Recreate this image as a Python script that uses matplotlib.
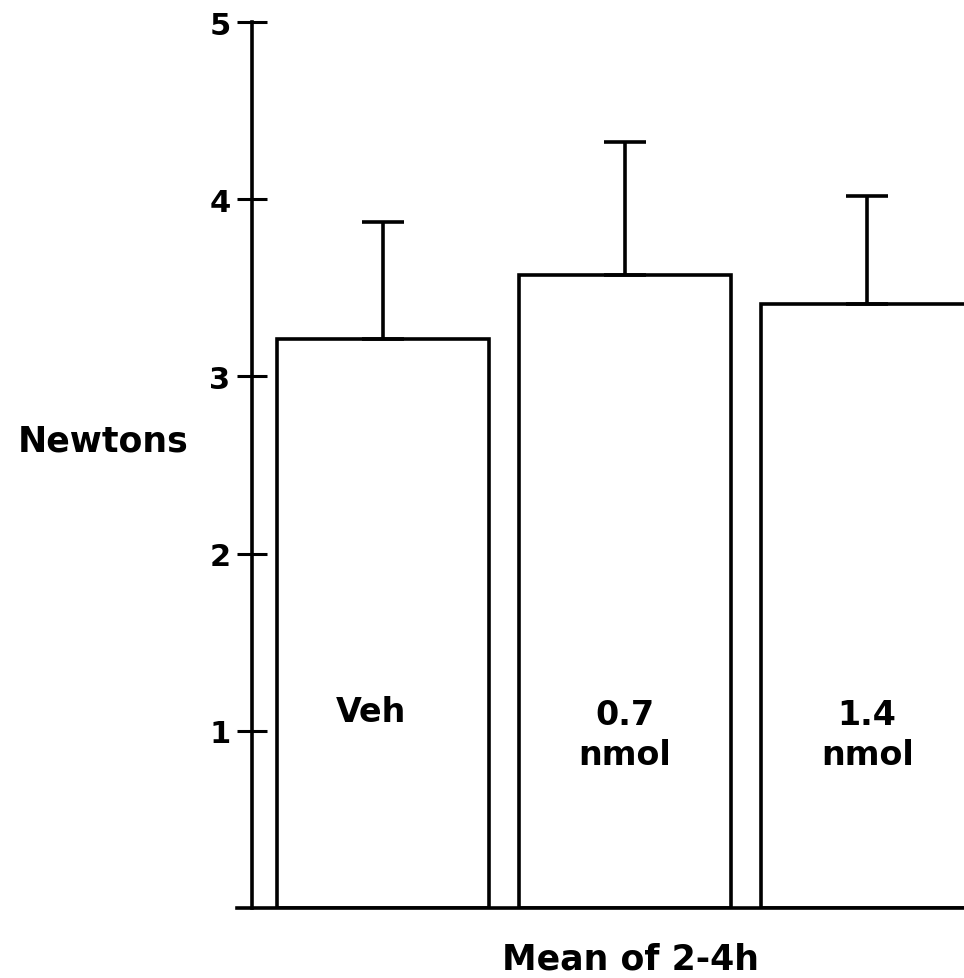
import matplotlib
matplotlib.use("Agg")
import matplotlib.pyplot as plt

categories = ["Veh", "0.7\nnmol", "1.4\nnmol"]
means = [3.21, 3.57, 3.41]
errors = [0.66, 0.75, 0.61]
yticks = [1, 2, 3, 4, 5]
ylabel = "Newtons"
xlabel = "Mean of 2-4h"

plt.rcParams['font.family'] = ['DejaVu Sans']
plt.rcParams['font.weight'] = 'bold'

W, H = 964, 979
fig = plt.figure(figsize=(W / 100, H / 100), dpi=100)
ax = fig.add_axes([252 / W, 1 - 909 / H, 1 - 252 / W, (909 - 23) / H])

x = list(range(len(categories)))
ax.bar(x, means, width=0.876, facecolor='white', edgecolor='black', linewidth=2.6, zorder=2)
ax.errorbar(x, means, yerr=[[0] * len(means), errors], fmt='none', ecolor='black',
            elinewidth=2.6, capsize=15, capthick=2.6, zorder=3)

ax.set_xlim(-0.541, 2.40)
ax.set_ylim(0, 5)
for s in ['top', 'right', 'bottom']:
    ax.spines[s].set_visible(False)
ax.spines['left'].set_linewidth(2.6)
ax.set_xticks([])
ax.set_yticks(yticks)
ax.set_yticklabels([str(t) for t in yticks], fontsize=22, fontweight='bold')
ax.tick_params(axis='y', direction='inout', length=21, width=2.2, pad=5)

# baseline extending slightly left of the y-axis
ax.plot([-0.603, 2.40], [0, 0], color='black', lw=2.6, clip_on=False, zorder=4)

label_y = [1.11, 0.98, 0.98]
for xi, lab, ly in zip(x, categories, label_y):
    ax.text(xi - (0.05 if xi == 0 else 0), ly, lab, ha='center', va='center',
            fontsize=24, fontweight='bold', linespacing=1.25, zorder=5)

fig.text(103 / W, 1 - 441 / H, ylabel, ha='center', va='center', fontsize=25, fontweight='bold')
fig.text(630 / W, 1 - 960 / H, xlabel, ha='center', va='center', fontsize=25, fontweight='bold')

fig.savefig("out.png", dpi=100)
